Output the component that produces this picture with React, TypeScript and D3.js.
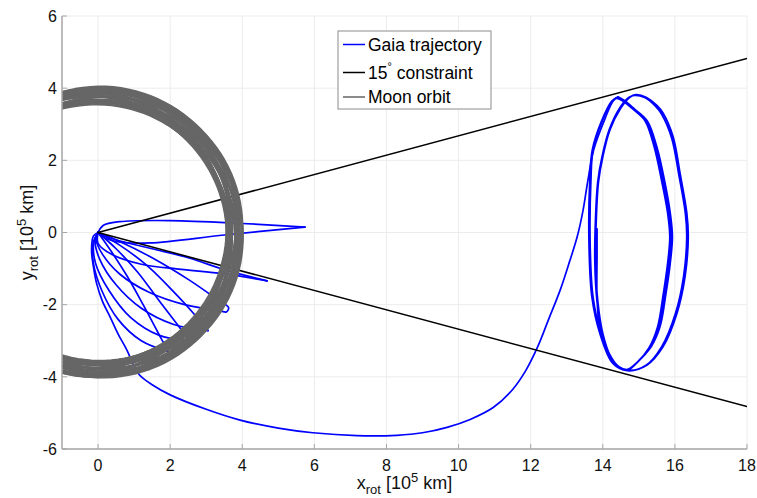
import React from 'react';
import * as d3 from 'd3';

const W = 757;
const H = 498;

const xDomain: [number, number] = [-1, 18];
const yDomain: [number, number] = [-6, 6];
const xTicks = [0, 2, 4, 6, 8, 10, 12, 14, 16, 18];
const yTicks = [-6, -4, -2, 0, 2, 4, 6];

const constraintAngleDeg = 15;
const constraintEndX = 18;

// Moon orbits in the rotating frame: semi-major axis, eccentricity, perigee angle (deg)
const moonA = [3.80, 3.81, 3.79, 3.82, 3.80, 3.78, 3.81, 3.80, 3.82, 3.79, 3.80, 3.81, 3.78, 3.82, 3.80, 3.79, 3.81, 3.80, 3.82, 3.79, 3.80, 3.81, 3.78, 3.80];
const moonE = [0.06, 0.045, 0.065, 0.05, 0.058, 0.062, 0.04, 0.055, 0.06, 0.048, 0.065, 0.052, 0.058, 0.044, 0.062, 0.05, 0.06, 0.066, 0.046, 0.056, 0.06, 0.05, 0.064, 0.054];
const moonW = [0, 15, 30, 45, 60, 75, 90, 105, 120, 135, 150, 165, 180, 195, 210, 225, 240, 255, 270, 285, 300, 315, 330, 345];

type P = [number, number];

// Gaia petal loops near Earth: a shallower and a bowed branch between Earth and each tip
const petal1: P[][] = [
  [[0, 0], [0.15, 0.2], [0.6, 0.3], [2, 0.33], [4, 0.25], [5.74, 0.15]],
  [[5.74, 0.15], [3.5, -0.07], [1.44, -0.29], [0.5, -0.25], [0.1, -0.1], [0, 0]],
];
const petal2: P[][] = [
  [[0, 0], [0.5, -0.2], [1.5, -0.45], [2.5, -0.7], [3.57, -1.05], [4.69, -1.34]],
  [[4.69, -1.34], [3.47, -1.14], [2.3, -1.02], [1.2, -0.88], [0.4, -0.62], [0.0, -0.3], [0, 0]],
];
const petal3: P[][] = [
  [[0, 0], [0.6, -0.25], [1.5, -0.7], [2.5, -1.3], [3.3, -1.85], [3.62, -2.08], [3.56, -2.2], [3.4, -2.17]],
  [[3.4, -2.17], [2.4, -2.0], [1.4, -1.65], [0.6, -1.15], [0.12, -0.6], [-0.05, -0.2], [0, 0]],
];
const petal4: P[][] = [
  [[0, 0], [0.6, -0.35], [1.4, -0.95], [2.2, -1.75], [2.7, -2.3], [3.05, -2.72]],
  [[3.05, -2.72], [2.1, -2.55], [1.2, -2.1], [0.5, -1.45], [0.05, -0.75], [-0.08, -0.25], [0, 0]],
];
const petal5: P[][] = [
  [[0, 0], [0.5, -0.45], [1.1, -1.1], [1.7, -1.9], [2.2, -2.55], [2.55, -3.0]],
  [[2.55, -3.0], [1.7, -2.85], [0.9, -2.35], [0.3, -1.6], [-0.07, -0.85], [-0.12, -0.3], [0, 0]],
];
const petal6: P[][] = [
  [[0, 0], [0.35, -0.5], [0.8, -1.2], [1.25, -2.0], [1.65, -2.75], [1.95, -3.3]],
  [[1.95, -3.3], [1.2, -3.0], [0.55, -2.4], [0.1, -1.6], [-0.13, -0.85], [-0.14, -0.3], [0, 0]],
];
const petals = [petal1, petal2, petal3, petal4, petal5, petal6];

// Transfer from Earth to L2 and Lissajous orbit
const transfer: P[] = [
  [0, 0], [-0.13, -0.1], [-0.18, -0.5], [-0.12, -1.0], [-0.04, -1.41], [0.12, -1.9], [0.33, -2.33],
  [0.55, -2.8], [0.8, -3.26], [1.0, -3.7], [1.15, -3.95], [1.5, -4.22], [2.0, -4.5], [3.0, -4.9],
  [3.94, -5.2], [5.0, -5.42], [5.96, -5.55], [7.18, -5.63], [8.29, -5.62], [9.0, -5.55],
  [9.68, -5.4], [10.32, -5.18], [10.96, -4.85], [11.5, -4.35], [11.85, -3.85], [12.18, -3.2],
  [12.5, -2.4], [12.82, -1.59], [13.08, -0.8], [13.29, -0.12], [13.45, 0.6], [13.58, 1.4],
  [13.75, 2.3], [14.06, 3.15], [14.29, 3.65], [14.42, 3.76],
];
const lissajous: P[] = [
  [14.42, 3.76], [14.6, 3.66], [14.9, 3.4], [15.23, 3.1], [15.5, 2.37], [15.72, 1.4], [15.87, 0.54],
  [15.93, -0.12], [15.87, -0.85], [15.75, -1.7], [15.59, -2.6], [15.35, -3.15], [15.0, -3.55], [14.7, -3.8],
  [14.45, -3.72], [14.2, -3.4], [14.0, -2.8], [13.86, -1.9], [13.8, -0.8], [13.82, 0.4], [13.88, 1.4],
  [14.0, 2.1], [14.2, 2.85], [14.5, 3.45], [14.75, 3.75], [14.92, 3.82],
  [15.2, 3.75], [15.5, 3.52], [15.67, 3.31], [15.95, 2.65], [16.15, 1.6], [16.33, 0.54], [16.37, -0.12],
  [16.28, -1.23], [16.06, -2.23], [15.67, -3.17], [15.23, -3.67], [14.7, -3.82],
  [14.3, -3.62], [13.95, -2.8], [13.73, -1.8], [13.65, -0.4], [13.67, 1.45], [13.73, 2.29], [14.0, 3.12],
  [14.27, 3.64], [14.4, 3.74],
  [14.58, 3.66], [14.88, 3.42], [15.2, 3.12], [15.46, 2.4], [15.68, 1.4], [15.83, 0.54],
  [15.89, -0.12], [15.84, -0.85], [15.72, -1.7], [15.56, -2.62], [15.32, -3.18], [14.98, -3.58], [14.68, -3.8],
  [14.42, -3.7], [14.18, -3.36], [13.98, -2.78], [13.84, -1.9], [13.78, -0.8], [13.8, 0.4], [13.86, 1.4],
  [13.98, 2.1], [14.18, 2.85], [14.47, 3.45], [14.72, 3.74], [14.88, 3.8],
  [15.16, 3.74], [15.46, 3.5], [15.63, 3.28], [15.91, 2.62], [16.11, 1.6], [16.29, 0.54], [16.33, -0.12],
  [16.24, -1.23], [16.02, -2.23], [15.63, -3.17], [15.2, -3.68], [14.68, -3.83],
  [14.28, -3.63], [13.92, -2.8], [13.7, -1.8], [13.62, -0.4], [13.64, 1.45], [13.71, 2.29], [13.98, 3.12],
  [14.25, 3.64], [14.38, 3.72],
  [14.56, 3.64], [14.86, 3.4], [15.17, 3.1], [15.42, 2.4], [15.64, 1.4], [15.8, 0.54],
  [15.86, -0.12], [15.8, -0.85], [15.68, -1.7], [15.52, -2.62], [15.28, -3.2], [14.95, -3.6], [14.66, -3.8],
  [14.38, -3.68], [14.12, -3.3], [13.92, -2.7], [13.84, -1.8], [13.84, -0.6], [13.84, 0.1],
];

const FONT = "'Liberation Sans', Arial, Helvetica, sans-serif";

const M = { left: 62, right: 747, top: 16, bottom: 449 };

export default function App() {
  const x = d3.scaleLinear().domain(xDomain).range([M.left, M.right]);
  const y = d3.scaleLinear().domain(yDomain).range([M.bottom, M.top]);

  const smooth = d3
    .line<P>()
    .x((d) => x(d[0]))
    .y((d) => y(d[1]))
    .curve(d3.curveCatmullRom.alpha(0.5));
  const straight = d3
    .line<P>()
    .x((d) => x(d[0]))
    .y((d) => y(d[1]));

  const tanA = Math.tan((constraintAngleDeg * Math.PI) / 180);
  const constraintUpper: P[] = [[0, 0], [constraintEndX, constraintEndX * tanA]];
  const constraintLower: P[] = [[0, 0], [constraintEndX, -constraintEndX * tanA]];

  const thetas = d3.range(0, 361, 3);
  const moonPaths = moonA.map((a, i) => {
    const e = moonE[i];
    const w = (moonW[i] * Math.PI) / 180;
    const pts: P[] = thetas.map((t) => {
      const th = (t * Math.PI) / 180;
      const r = (a * (1 - e * e)) / (1 + e * Math.cos(th - w));
      return [r * Math.cos(th), r * Math.sin(th)];
    });
    return straight(pts) as string;
  });

  const axisColor = '#a6a6a6';
  const gridColor = '#ececec';
  const blue = '#0000ff';
  const gray = '#666666';

  const legendX = 338;
  const legendY = 31;
  const rows = [44.5, 72.5, 97];

  return (
    <svg
      width={W}
      height={H}
      style={{ position: 'absolute', left: 0, top: 0, background: '#fff' }}
      fontFamily={FONT}
    >
      <defs>
        <clipPath id="plot">
          <rect x={M.left} y={M.top} width={M.right - M.left} height={M.bottom - M.top} />
        </clipPath>
      </defs>
      <rect width={W} height={H} fill="#fff" />

      {xTicks.map((t) => (
        <line key={'gx' + t} x1={x(t)} x2={x(t)} y1={M.top} y2={M.bottom} stroke={gridColor} strokeWidth={1} />
      ))}
      {yTicks.map((t) => (
        <line key={'gy' + t} x1={M.left} x2={M.right} y1={y(t)} y2={y(t)} stroke={gridColor} strokeWidth={1} />
      ))}

      <g clipPath="url(#plot)" fill="none" strokeLinejoin="round" strokeLinecap="round">
        {petals.map((pt, i) =>
          pt.map((br, j) => (
            <path key={'p' + i + '_' + j} d={smooth(br) as string} stroke={blue} strokeWidth={1.7} />
          ))
        )}
        <path d={smooth(transfer) as string} stroke={blue} strokeWidth={1.7} />
        <path d={smooth(lissajous) as string} stroke={blue} strokeWidth={1.8} />
        <path d={straight(constraintUpper) as string} stroke="#000" strokeWidth={1.5} />
        <path d={straight(constraintLower) as string} stroke="#000" strokeWidth={1.5} />
        {moonPaths.map((d, i) => (
          <path key={'m' + i} d={d} stroke={gray} strokeWidth={2.3} />
        ))}
      </g>

      <line x1={M.left} x2={M.left} y1={M.top} y2={M.bottom} stroke={axisColor} strokeWidth={1.5} />
      <line x1={M.left} x2={M.right} y1={M.bottom} y2={M.bottom} stroke={axisColor} strokeWidth={1.5} />
      {xTicks.map((t) => (
        <g key={'xt' + t}>
          <line x1={x(t)} x2={x(t)} y1={M.bottom} y2={M.bottom - 5} stroke={axisColor} strokeWidth={1} />
          <text x={x(t)} y={471} textAnchor="middle" fontSize={16} fill="#111">
            {t}
          </text>
        </g>
      ))}
      {yTicks.map((t) => (
        <g key={'yt' + t}>
          <line x1={M.left} x2={M.left + 5} y1={y(t)} y2={y(t)} stroke={axisColor} strokeWidth={1} />
          <text x={57} y={y(t)} dy="0.36em" textAnchor="end" fontSize={16} fill="#111">
            {t}
          </text>
        </g>
      ))}

      <text x={(M.left + M.right) / 2} y={489} textAnchor="middle" fontSize={18} fill="#111">
        x
        <tspan fontSize={13} dy={5}>rot</tspan>
        <tspan dy={-5}> [10</tspan>
        <tspan fontSize={13} dy={-7}>5</tspan>
        <tspan dy={7}> km]</tspan>
      </text>
      <text
        transform={`translate(33, ${(M.top + M.bottom) / 2}) rotate(-90)`}
        textAnchor="middle"
        fontSize={18}
        fill="#111"
      >
        y
        <tspan fontSize={13} dy={5}>rot</tspan>
        <tspan dy={-5}> [10</tspan>
        <tspan fontSize={13} dy={-7}>5</tspan>
        <tspan dy={7}> km]</tspan>
      </text>

      <rect x={legendX} y={legendY} width={153} height={78} fill="#fff" stroke="#8c8c8c" strokeWidth={1} />
      <line x1={343} x2={365} y1={rows[0]} y2={rows[0]} stroke={blue} strokeWidth={1.5} />
      <line x1={343} x2={365} y1={rows[1]} y2={rows[1]} stroke="#000" strokeWidth={1.5} />
      <line x1={343} x2={365} y1={rows[2]} y2={rows[2]} stroke={gray} strokeWidth={1.5} />
      <text x={368} y={50.7} fontSize={17.5} fill="#000">Gaia trajectory</text>
      <text x={368} y={79.3} fontSize={17.5} fill="#000">
        15
        <tspan fontSize={11} dy={-9}>°</tspan>
        <tspan dy={9}> constraint</tspan>
      </text>
      <text x={368} y={103.3} fontSize={17.5} fill="#000">Moon orbit</text>
    </svg>
  );
}
